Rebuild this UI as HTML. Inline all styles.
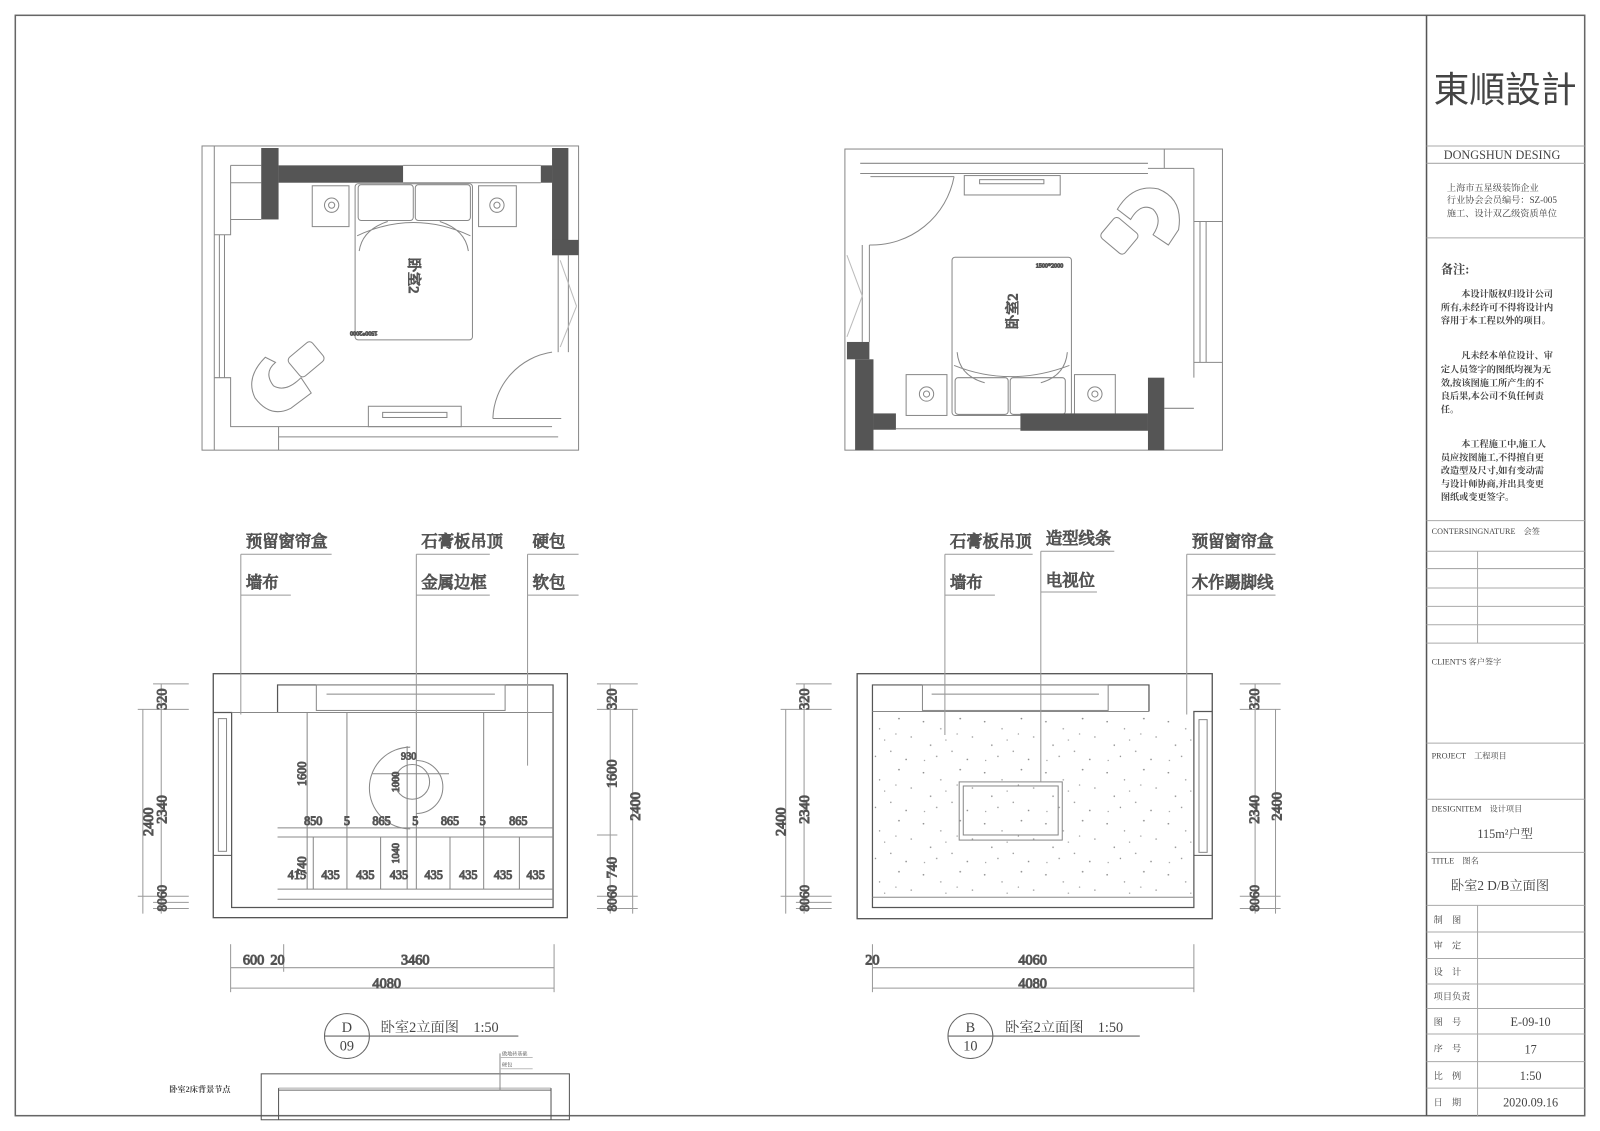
<!DOCTYPE html>
<html><head><meta charset="utf-8"><style>
html,body{margin:0;padding:0;background:#fff;}
svg{display:block;}
text{font-family:"Liberation Serif","Noto Serif CJK SC","Noto Sans CJK SC",serif;fill:#444;}
.s{font-family:"Liberation Serif","Noto Serif CJK SC",serif;}
</style></head><body>
<svg width="1600" height="1131" viewBox="0 0 1568 1108" preserveAspectRatio="none" xmlns="http://www.w3.org/2000/svg">
<defs>
<pattern id="sp" width="60" height="50" patternUnits="userSpaceOnUse">
<g fill="#888"><circle cx="5" cy="7" r="0.8"/><circle cx="22" cy="14" r="0.7"/><circle cx="41" cy="4" r="0.8"/><circle cx="53" cy="22" r="0.7"/><circle cx="12" cy="30" r="0.8"/><circle cx="33" cy="36" r="0.7"/><circle cx="48" cy="44" r="0.8"/><circle cx="27" cy="25" r="0.6"/><circle cx="6" cy="45" r="0.6"/><circle cx="38" cy="19" r="0.6"/><circle cx="18" cy="41" r="0.7"/></g>
</pattern>
</defs>
<g fill="none" stroke="#555" stroke-width="1">
<rect x="15" y="15" width="1538" height="1078" stroke="#666" stroke-width="1.5"/>
<line x1="1398" y1="15" x2="1398" y2="1093" stroke-width="1.5"/>
<g stroke="#aaa">
<line x1="1398" y1="143" x2="1553" y2="143"/><line x1="1398" y1="160" x2="1553" y2="160"/>
<line x1="1398" y1="233" x2="1553" y2="233"/><line x1="1398" y1="510" x2="1553" y2="510"/>
<line x1="1398" y1="540" x2="1553" y2="540"/><line x1="1398" y1="557" x2="1553" y2="557"/>
<line x1="1398" y1="576" x2="1553" y2="576"/><line x1="1398" y1="594" x2="1553" y2="594"/>
<line x1="1398" y1="612" x2="1553" y2="612"/><line x1="1398" y1="630" x2="1553" y2="630"/>
<line x1="1448" y1="540" x2="1448" y2="630"/>
<line x1="1398" y1="728" x2="1553" y2="728"/><line x1="1398" y1="783" x2="1553" y2="783"/>
<line x1="1398" y1="835" x2="1553" y2="835"/><line x1="1398" y1="887" x2="1553" y2="887"/>
<line x1="1398" y1="913" x2="1553" y2="913"/><line x1="1398" y1="939" x2="1553" y2="939"/>
<line x1="1398" y1="964" x2="1553" y2="964"/><line x1="1398" y1="988" x2="1553" y2="988"/>
<line x1="1398" y1="1013" x2="1553" y2="1013"/><line x1="1398" y1="1040" x2="1553" y2="1040"/>
<line x1="1398" y1="1066" x2="1553" y2="1066"/>
<line x1="1448" y1="887" x2="1448" y2="1093"/>
</g>

<g stroke="#888">
<rect x="198" y="143" width="369" height="298"/>
<line x1="210" y1="143" x2="210" y2="441"/>
<polyline points="226,162 226,230 210,230"/>
<polyline points="210,370 226,370 226,418 541,418"/>
<line x1="215" y1="230" x2="215" y2="370"/><line x1="220" y1="230" x2="220" y2="370"/>
<line x1="226" y1="179" x2="256" y2="179"/><line x1="226" y1="162" x2="256" y2="162"/>
<line x1="226" y1="215" x2="256" y2="215"/>
<line x1="273" y1="418" x2="273" y2="441"/><line x1="273" y1="428" x2="547" y2="428"/>
<line x1="547" y1="250" x2="547" y2="345"/><line x1="557" y1="250" x2="557" y2="345"/>
<line x1="549" y1="255" x2="565" y2="300" stroke="#bbb"/><line x1="565" y1="300" x2="549" y2="340" stroke="#bbb"/>
<line x1="395" y1="162" x2="530" y2="162"/><line x1="395" y1="179" x2="530" y2="179"/>
<rect x="348" y="180" width="115" height="153" rx="3"/>
<rect x="351" y="181" width="54" height="35" rx="3"/><rect x="407" y="181" width="54" height="35" rx="3"/>
<path d="M350,231 Q405,205 461,231 M352,246 Q355,225 380,217 M459,246 Q456,225 431,217"/>
<rect x="306" y="182" width="36" height="40"/><rect x="469" y="182" width="37" height="40"/>
<circle cx="325" cy="201" r="7"/><circle cx="325" cy="201" r="3"/><circle cx="487" cy="201" r="7"/><circle cx="487" cy="201" r="3"/>
<path d="M260,350 Q240,370 250,390 Q265,410 285,400 L305,385 L295,370 Q280,385 268,378 Q258,365 270,355 Z"/>
<rect x="285" y="340" width="30" height="24" rx="4" transform="rotate(-40 300 352)"/>
<path d="M541,345 A68,68 0 0 0 483,410"/>
<line x1="483" y1="410" x2="550" y2="410"/>
<rect x="361" y="398" width="91" height="20"/><rect x="375" y="404" width="63" height="5"/>
</g>
<g fill="#555" stroke="none">
<rect x="256" y="145" width="17" height="70"/><rect x="273" y="162" width="122" height="17"/>
<rect x="541" y="145" width="16" height="105"/><rect x="530" y="162" width="11" height="17"/><rect x="541" y="235" width="26" height="15"/>
</g>
<text x="406" y="270" font-size="14" transform="rotate(90 406 270)" text-anchor="middle" dy="5">卧室2</text>
<text x="370" y="325" font-size="6" class="s" transform="rotate(180 370 325)">1500*2000</text>

<g stroke="#888">
<rect x="828" y="146" width="370" height="295"/>
<line x1="843" y1="160" x2="1125" y2="160"/><line x1="843" y1="170" x2="1125" y2="170"/>
<line x1="853" y1="173" x2="935" y2="173"/>
<line x1="1125" y1="165" x2="1170" y2="165"/><line x1="1170" y1="165" x2="1170" y2="370"/>
<line x1="1141" y1="146" x2="1141" y2="165"/><line x1="1170" y1="217" x2="1198" y2="217"/><line x1="1170" y1="355" x2="1198" y2="355"/>
<line x1="1176" y1="217" x2="1176" y2="355"/><line x1="1182" y1="217" x2="1182" y2="355"/>
<line x1="852" y1="240" x2="852" y2="335"/><line x1="845" y1="240" x2="845" y2="335"/>
<line x1="830" y1="250" x2="845" y2="290" stroke="#bbb"/><line x1="845" y1="290" x2="830" y2="330" stroke="#bbb"/>
<path d="M935,173 A82,82 0 0 1 852,240"/>
<rect x="945" y="172" width="94" height="19"/><rect x="960" y="176" width="63" height="4"/>
<rect x="933" y="252" width="117" height="155" rx="3"/>
<rect x="936" y="370" width="52" height="36" rx="3"/><rect x="990" y="370" width="54" height="36" rx="3"/>
<path d="M935,358 Q990,380 1048,358 M938,345 Q940,368 965,375 M1046,345 Q1044,368 1020,375"/>
<rect x="888" y="367" width="40" height="40"/><rect x="1053" y="367" width="40" height="40"/>
<circle cx="908" cy="386" r="7"/><circle cx="908" cy="386" r="3"/><circle cx="1073" cy="386" r="7"/><circle cx="1073" cy="386" r="3"/>
<path d="M1095,205 Q1110,180 1135,185 Q1160,195 1155,225 L1145,240 L1130,230 Q1140,215 1130,205 Q1118,198 1108,215 Z"/>
<rect x="1082" y="218" width="30" height="26" rx="4" transform="rotate(40 1097 231)"/>
<line x1="878" y1="420" x2="1000" y2="420"/><line x1="1141" y1="400" x2="1170" y2="400"/>
</g>
<g fill="#555" stroke="none">
<rect x="830" y="335" width="22" height="17"/>
<rect x="838" y="352" width="18" height="89"/>
<rect x="856" y="405" width="22" height="16"/><rect x="1000" y="405" width="125" height="17"/>
<rect x="1125" y="370" width="16" height="71"/>
</g>
<text x="992" y="305" font-size="14" transform="rotate(-90 992 305)" text-anchor="middle" dy="5">卧室2</text>
<text x="1015" y="262" font-size="6" class="s">1500*2000</text>

<rect x="209" y="660" width="347" height="239" stroke-width="1.3"/>
<polyline points="209,698 227,698 227,889 542,889 542,671 272,671 272,698" stroke-width="1.2"/>
<polyline points="209,838 227,838"/>
<g stroke="#888">
<line x1="227" y1="698" x2="272" y2="698"/><line x1="272" y1="698" x2="542" y2="698"/>
<rect x="214" y="704" width="8" height="130"/>
<rect x="310" y="671" width="185" height="25"/><line x1="320" y1="680" x2="485" y2="680"/>
<line x1="272" y1="811" x2="542" y2="811"/><line x1="272" y1="820" x2="542" y2="820"/>
<line x1="272" y1="871" x2="542" y2="871"/><line x1="272" y1="881" x2="542" y2="881"/>
<line x1="301" y1="698" x2="301" y2="871"/><line x1="340" y1="698" x2="340" y2="871"/>
<line x1="408" y1="698" x2="408" y2="871"/><line x1="474" y1="698" x2="474" y2="871"/>
<line x1="307" y1="820" x2="307" y2="871"/><line x1="373" y1="820" x2="373" y2="871"/>
<line x1="441" y1="820" x2="441" y2="871"/><line x1="509" y1="820" x2="509" y2="871"/>
<line x1="399" y1="731" x2="399" y2="871"/>
<path d="M402,732 A37,37 0 1 0 402,812"/><path d="M408,745 A22,22 0 0 1 408,797"/>
<circle cx="404" cy="766" r="17"/><line x1="365" y1="758" x2="440" y2="758"/>
</g>
<g font-size="12" class="s" fill="#555">
<text x="298" y="808">850</text><text x="337" y="808">5</text><text x="365" y="808">865</text><text x="404" y="808">5</text>
<text x="432" y="808">865</text><text x="470" y="808">5</text><text x="499" y="808">865</text>
<text x="282" y="861">415</text><text x="315" y="861">435</text><text x="349" y="861">435</text><text x="382" y="861">435</text>
<text x="416" y="861">435</text><text x="450" y="861">435</text><text x="484" y="861">435</text><text x="516" y="861">435</text>
<text x="393" y="744" font-size="10">930</text>
<text transform="translate(300,770) rotate(-90)">1600</text>
<text transform="translate(300,857) rotate(-90)">740</text>
<text transform="translate(391,776) rotate(-90)" font-size="10">1000</text>
<text transform="translate(391,846) rotate(-90)" font-size="10">1040</text>
</g>
<g stroke="#999">
<line x1="140" y1="695" x2="140" y2="895"/><line x1="158" y1="670" x2="158" y2="895"/>
<line x1="135" y1="695" x2="185" y2="695"/><line x1="150" y1="670" x2="185" y2="670"/>
<line x1="135" y1="878" x2="185" y2="878"/><line x1="150" y1="884" x2="185" y2="884"/><line x1="150" y1="890" x2="185" y2="890"/>
<line x1="598" y1="670" x2="598" y2="895"/><line x1="620" y1="695" x2="620" y2="895"/>
<line x1="585" y1="670" x2="625" y2="670"/><line x1="585" y1="695" x2="625" y2="695"/><line x1="585" y1="818" x2="605" y2="818"/>
<line x1="585" y1="878" x2="625" y2="878"/><line x1="585" y1="890" x2="625" y2="890"/>
<line x1="226" y1="948" x2="543" y2="948"/><line x1="226" y1="968" x2="543" y2="968"/>
<line x1="226" y1="925" x2="226" y2="972"/><line x1="543" y1="925" x2="543" y2="972"/><line x1="278" y1="925" x2="278" y2="952"/>
</g>
<g font-size="14" class="s" fill="#555">
<text transform="translate(150,805) rotate(-90)" text-anchor="middle">2400</text>
<text transform="translate(163,793) rotate(-90)" text-anchor="middle">2340</text>
<text transform="translate(163,685) rotate(-90)" text-anchor="middle">320</text>
<text transform="translate(163,880) rotate(-90)" text-anchor="middle" font-size="13">8060</text>
<text transform="translate(604,685) rotate(-90)" text-anchor="middle">320</text>
<text transform="translate(604,758) rotate(-90)" text-anchor="middle">1600</text>
<text transform="translate(604,850) rotate(-90)" text-anchor="middle">740</text>
<text transform="translate(604,880) rotate(-90)" text-anchor="middle" font-size="13">8060</text>
<text transform="translate(627,790) rotate(-90)" text-anchor="middle">2400</text>
</g>
<g font-size="14" class="s" fill="#555"><text x="238" y="945">600</text><text x="265" y="945">20</text><text x="393" y="945">3460</text><text x="365" y="968">4080</text></g>

<rect x="840" y="660" width="348" height="240" stroke-width="1.3"/>
<polyline points="1188,697 1170,697 1170,889 855,889 855,671 1126,671 1126,697" stroke-width="1.2"/>
<line x1="1170" y1="838" x2="1188" y2="838"/>
<rect x="856" y="697" width="314" height="182" fill="url(#sp)" stroke="none"/>
<g stroke="#888">
<line x1="855" y1="697" x2="1126" y2="697"/><line x1="855" y1="879" x2="1170" y2="879"/>
<rect x="904" y="671" width="182" height="25"/><line x1="913" y1="680" x2="1077" y2="680"/>
<rect x="1175" y="705" width="8" height="130"/>
<rect x="940" y="766" width="101" height="57"/><rect x="944" y="770" width="93" height="48"/>
</g>
<g stroke="#999">
<line x1="770" y1="695" x2="770" y2="895"/><line x1="788" y1="670" x2="788" y2="895"/>
<line x1="765" y1="695" x2="815" y2="695"/><line x1="780" y1="670" x2="815" y2="670"/>
<line x1="765" y1="878" x2="815" y2="878"/><line x1="780" y1="884" x2="815" y2="884"/><line x1="780" y1="890" x2="815" y2="890"/>
<line x1="1230" y1="670" x2="1230" y2="895"/><line x1="1250" y1="695" x2="1250" y2="895"/>
<line x1="1215" y1="670" x2="1255" y2="670"/><line x1="1215" y1="695" x2="1255" y2="695"/>
<line x1="1215" y1="878" x2="1255" y2="878"/><line x1="1215" y1="890" x2="1255" y2="890"/>
<line x1="855" y1="948" x2="1170" y2="948"/><line x1="855" y1="968" x2="1170" y2="968"/>
<line x1="855" y1="925" x2="855" y2="972"/><line x1="1170" y1="925" x2="1170" y2="972"/>
</g>
<g font-size="14" class="s" fill="#555">
<text transform="translate(770,805) rotate(-90)" text-anchor="middle">2400</text>
<text transform="translate(793,793) rotate(-90)" text-anchor="middle">2340</text>
<text transform="translate(793,685) rotate(-90)" text-anchor="middle">320</text>
<text transform="translate(793,880) rotate(-90)" text-anchor="middle" font-size="13">8060</text>
<text transform="translate(1234,685) rotate(-90)" text-anchor="middle">320</text>
<text transform="translate(1234,793) rotate(-90)" text-anchor="middle">2340</text>
<text transform="translate(1234,880) rotate(-90)" text-anchor="middle" font-size="13">8060</text>
<text transform="translate(1256,790) rotate(-90)" text-anchor="middle">2400</text>
</g>
<g font-size="14" class="s" fill="#555"><text x="848" y="945">20</text><text x="998" y="945">4060</text><text x="998" y="968">4080</text></g>

<g stroke="#999">
<line x1="236" y1="543" x2="325" y2="543"/><line x1="236" y1="583" x2="285" y2="583"/><line x1="236" y1="543" x2="236" y2="700"/>
<line x1="408" y1="543" x2="480" y2="543"/><line x1="408" y1="583" x2="480" y2="583"/><line x1="408" y1="543" x2="408" y2="700"/>
<line x1="517" y1="543" x2="567" y2="543"/><line x1="517" y1="583" x2="567" y2="583"/><line x1="517" y1="543" x2="517" y2="750"/>
<line x1="926" y1="543" x2="1012" y2="543"/><line x1="926" y1="583" x2="975" y2="583"/><line x1="926" y1="543" x2="926" y2="720"/>
<line x1="1020" y1="540" x2="1092" y2="540"/><line x1="1020" y1="580" x2="1075" y2="580"/><line x1="1020" y1="540" x2="1020" y2="766"/>
<line x1="1163" y1="543" x2="1250" y2="543"/><line x1="1163" y1="583" x2="1250" y2="583"/><line x1="1163" y1="543" x2="1163" y2="700"/>
</g>
<g font-size="16" fill="#555" font-weight="normal">
<text x="241" y="536">预留窗帘盒</text><text x="241" y="576">墙布</text>
<text x="413" y="536">石膏板吊顶</text><text x="413" y="576">金属边框</text>
<text x="522" y="536">硬包</text><text x="522" y="576">软包</text>
<text x="931" y="536">石膏板吊顶</text><text x="931" y="576">墙布</text>
<text x="1025" y="533">造型线条</text><text x="1025" y="574">电视位</text>
<text x="1168" y="536">预留窗帘盒</text><text x="1168" y="576">木作踢脚线</text>
</g>

<circle cx="340" cy="1015" r="22" stroke="#666"/><line x1="318" y1="1015" x2="508" y2="1015" stroke="#666"/>
<circle cx="951" cy="1015" r="22" stroke="#666"/><line x1="929" y1="1015" x2="1117" y2="1015" stroke="#666"/>
<rect x="256" y="1052" width="302" height="45" stroke="#555"/>
<line x1="273" y1="1068" x2="540" y2="1068" stroke="#666"/><line x1="273" y1="1066" x2="540" y2="1066" stroke="#aaa"/>
<line x1="273" y1="1066" x2="273" y2="1097"/><line x1="540" y1="1066" x2="540" y2="1097"/>
<line x1="490" y1="1032" x2="490" y2="1068" stroke="#888"/>
<line x1="490" y1="1036" x2="522" y2="1036" stroke="#bbb"/><line x1="490" y1="1047" x2="522" y2="1047" stroke="#bbb"/>
</g>
<g font-size="14" fill="#444">
<text x="340" y="1011" text-anchor="middle">D</text><text x="340" y="1029" text-anchor="middle">09</text>
<text x="373" y="1011">卧室2立面图　1:50</text>
<text x="951" y="1011" text-anchor="middle">B</text><text x="951" y="1029" text-anchor="middle">10</text>
<text x="985" y="1011">卧室2立面图　1:50</text>
</g>
<text x="166" y="1070" font-size="8" font-weight="bold">卧室2床背景节点</text>
<text x="492" y="1034" font-size="5">做地砖基础</text><text x="492" y="1045" font-size="5">硬包</text>

<text x="1475" y="100" font-size="35" text-anchor="middle" fill="#444" style="font-family:'Liberation Sans','Noto Sans CJK SC',sans-serif">東順設計</text>
<text x="1472" y="156" font-size="12" text-anchor="middle">DONGSHUN DESING</text>
<g font-size="9" fill="#555"><text x="1418" y="187">上海市五星级装饰企业</text><text x="1418" y="199">行业协会会员编号：SZ-005</text><text x="1418" y="212">施工、设计双乙级资质单位</text></g>
<text x="1412" y="268" font-size="12" font-weight="bold">备注:</text>
<g font-size="9" font-weight="bold" fill="#333">
<text x="1432" y="291">本设计版权归设计公司</text><text x="1412" y="304">所有,未经许可不得将设计内</text><text x="1412" y="317">容用于本工程以外的项目。</text>
<text x="1432" y="351">凡未经本单位设计、审</text><text x="1412" y="365">定人员签字的图纸均视为无</text><text x="1412" y="378">效,按该图施工所产生的不</text><text x="1412" y="391">良后果,本公司不负任何责</text><text x="1412" y="404">任。</text>
<text x="1432" y="438">本工程施工中,施工人</text><text x="1412" y="451">员应按图施工,不得擅自更</text><text x="1412" y="464">改造型及尺寸,如有变动需</text><text x="1412" y="477">与设计师协商,并出具变更</text><text x="1412" y="490">图纸或变更签字。</text>
</g>
<g font-size="8" fill="#444">
<text x="1403" y="523">CONTERSINGNATURE　会签</text>
<text x="1403" y="651">CLIENT'S  客户签字</text>
<text x="1403" y="743">PROJECT　工程项目</text>
<text x="1403" y="795">DESIGNITEM　设计项目</text>
<text x="1403" y="846">TITLE　图名</text>
</g>
<text x="1475" y="821" font-size="12" text-anchor="middle">115m²户型</text>
<text x="1470" y="872" font-size="13" text-anchor="middle">卧室2 D/B立面图</text>
<g font-size="9" fill="#444">
<text x="1405" y="904">制　图</text><text x="1405" y="929">审　定</text><text x="1405" y="955">设　计</text><text x="1405" y="979">项目负责</text>
<text x="1405" y="1004">图　号</text><text x="1405" y="1030">序　号</text><text x="1405" y="1057">比　例</text><text x="1405" y="1083">日　期</text>
</g>
<g font-size="12" text-anchor="middle" fill="#444">
<text x="1500" y="1005">E-09-10</text><text x="1500" y="1032">17</text><text x="1500" y="1058">1:50</text><text x="1500" y="1084">2020.09.16</text>
</g>
</svg>
</body></html>
